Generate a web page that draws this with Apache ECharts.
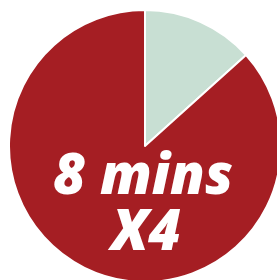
<!DOCTYPE html>
<html>
<head>
<meta charset="utf-8">
<script src="https://cdn.jsdelivr.net/npm/echarts@6/dist/echarts.min.js"></script>
<style>
  html, body { margin: 0; padding: 0; background: #fff; }
  #chart { width: 277px; height: 280px; }
</style>
</head>
<body>
<div id="chart"></div>
<script>
// 8 minutes out of an hour
var names = ['8 mins', 'rest'];
var values = [8, 52];
var colors = ['#c8dfd3', '#a51e23'];
var labelLines = ['8 mins', 'X4'];

var textStyle = {
    fill: '#fff',
    fontFamily: 'Open Sans',
    fontStyle: 'italic',
    fontWeight: 800,
    fontSize: 56,
    align: 'center',
    verticalAlign: 'middle'
};

var myChart = echarts.init(document.getElementById('chart'));
var option = {
    animation: false,
    series: [{
        type: 'pie',
        center: [145, 146],
        radius: 136,
        startAngle: 90,
        clockwise: true,
        label: { show: false },
        labelLine: { show: false },
        itemStyle: {
            borderColor: '#fff',
            borderWidth: 2
        },
        data: names.map(function (n, i) {
            return { name: n, value: values[i], itemStyle: { color: colors[i] } };
        })
    }],
    graphic: [{
        type: 'text',
        z: 100,
        x: 143,
        y: 178,
        style: Object.assign({ text: labelLines[0] }, textStyle)
    }, {
        type: 'text',
        z: 100,
        x: 146,
        y: 234,
        style: Object.assign({ text: labelLines[1] }, textStyle)
    }]
};
myChart.setOption(option);
</script>
</body>
</html>
